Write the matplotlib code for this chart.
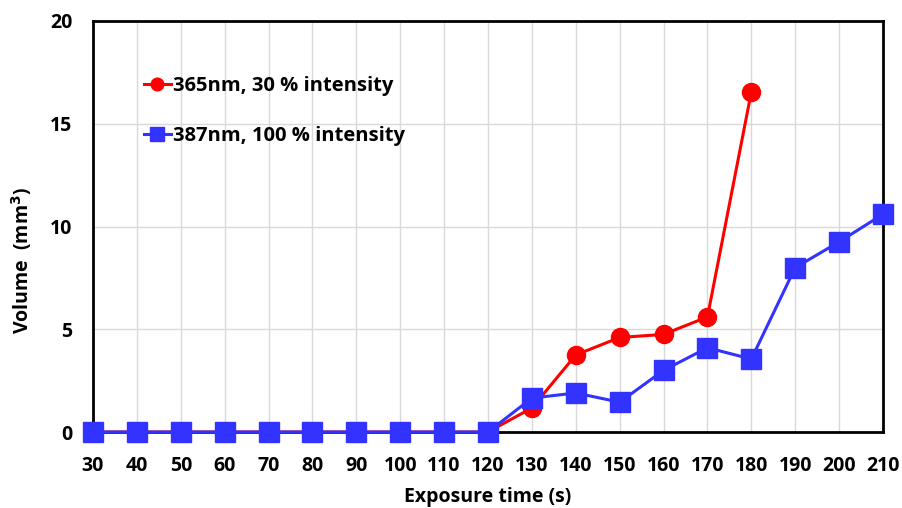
import matplotlib.pyplot as plt
import numpy as np

plt.rcParams['font.family'] = ['Open Sans', 'DejaVu Sans']
plt.rcParams['font.weight'] = 'bold'

times = [30, 40, 50, 60, 70, 80, 90, 100, 110, 120, 130, 140, 150, 160, 170, 180, 190, 200, 210]
red_vol = [0, 0, 0, 0, 0, 0, 0, 0, 0, 0, 1.17, 3.75, 4.6, 4.75, 5.6, 16.55]
blue_vol = [0, 0, 0, 0, 0, 0, 0, 0, 0, 0, 1.65, 1.9, 1.45, 3.0, 4.1, 3.55, 8.0, 9.25, 10.6]

fig = plt.figure(figsize=(9.02, 5.08), dpi=100)
ax = fig.add_axes([93/902, 1 - 432/508, 790/902, 411/508])

ax.plot(times[:len(red_vol)], red_vol, color='#ff0000', lw=2.2, marker='o', ms=13,
        label='365nm, 30 % intensity', zorder=3, clip_on=False)
ax.plot(times, blue_vol, color='#3333ff', lw=2.2, marker='s', ms=14,
        label='387nm, 100 % intensity', zorder=4, clip_on=False)

ax.set_xlim(30, 210)
ax.set_ylim(0, 20)
ax.set_xticks(times)
ax.set_yticks([0, 5, 10, 15, 20])
ax.grid(True, color='#d9d9d9', lw=1)
ax.set_axisbelow(True)
for s in ax.spines.values():
    s.set_color('black')
    s.set_linewidth(2)
ax.tick_params(length=0, labelsize=14)
ax.tick_params(axis='x', pad=17)
ax.tick_params(axis='y', pad=15)
for lab in ax.get_xticklabels() + ax.get_yticklabels():
    lab.set_fontweight('bold')
ax.set_xlabel('Exposure time (s)', fontsize=14, fontweight='bold', labelpad=8)
ax.set_ylabel('Volume  (mm$^\\mathbf{3}$)', fontsize=14, fontweight='bold')
ax.yaxis.set_label_coords(-0.075, 0.418)

leg = ax.legend(loc='upper left', bbox_to_anchor=(0.064, 0.865), frameon=False,
                prop={'size': 14.5, 'weight': 'bold'}, handlelength=1.35, handletextpad=0.1,
                labelspacing=1.45, markerscale=0.7, borderpad=0, borderaxespad=0)

fig.savefig('out.png', dpi=100)
